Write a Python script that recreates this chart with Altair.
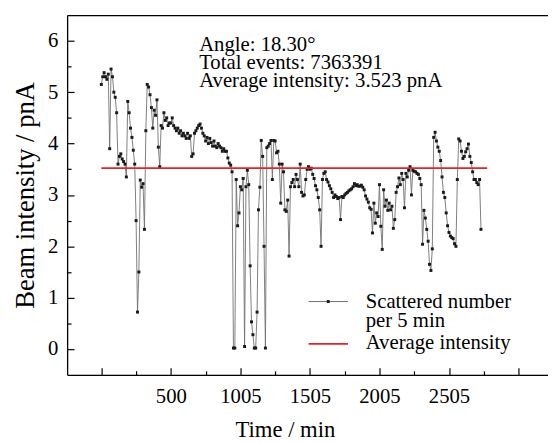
import altair as alt
import pandas as pd

# ---------------- data ----------------
time_min = list(range(5, 2736, 10))
beam = [
    5.15, 5.3, 5.38, 5.3, 5.25, 5.35, 3.9, 5.45, 5.3, 5.0,
    4.9, 4.6, 3.6, 3.75, 3.8, 3.7, 3.65, 3.6, 3.35, 4.82,
    4.6, 4.3, 4.12, 3.87, 3.6, 2.5, 0.72, 1.5, 3.29, 3.15,
    3.22, 2.33, 4.25, 5.15, 5.1, 4.95, 4.7, 4.3, 4.65, 4.55,
    4.85, 3.93, 3.55, 4.35, 4.3, 4.6, 4.45, 4.5, 4.35, 4.4,
    4.4, 4.5, 4.35, 4.3, 4.25, 4.3, 4.2, 4.25, 4.15, 4.2,
    4.15, 4.1, 4.2, 4.1, 4.15, 3.75, 3.8, 4.2, 4.25, 4.3,
    4.35, 4.38, 4.3, 4.2, 4.15, 4.05, 4.12, 4.0, 4.1, 4.02,
    3.95, 4.05, 3.95, 3.92, 4.0, 3.95, 3.92, 3.85, 3.9, 3.85,
    3.85, 3.72, 3.62, 3.58, 3.45, 0.02, 0.02, 3.3, 2.4, 2.65,
    3.16, 3.1, 3.32, 0.05, 3.16, 3.48, 3.2, 1.62, 0.53, 0.28,
    0.02, 0.02, 0.72, 2.71, 3.15, 4.06, 3.75, 2.0, 0.02, 3.92,
    3.95, 4.0, 4.06, 3.3, 4.06, 4.05, 3.82, 3.85, 3.6, 2.84,
    3.6, 3.45, 2.71, 2.68, 2.9, 1.81, 3.16, 3.24, 3.3, 3.16,
    3.4, 3.3, 3.16, 3.6, 3.05, 2.98, 3.0, 3.3, 3.5, 3.55,
    3.5, 3.52, 3.4, 3.32, 3.18, 3.1, 2.95, 2.71, 2.0, 3.3,
    3.42, 3.45, 3.3, 3.25, 3.18, 3.12, 3.05, 2.95, 3.0, 2.97,
    2.93, 2.95, 2.52, 2.97, 2.95, 3.0, 3.03, 3.05, 3.08, 3.1,
    3.12, 3.16, 3.22, 3.18, 3.2, 3.17, 3.17, 3.19, 3.15, 3.1,
    2.98, 2.92, 2.86, 2.75, 2.72, 2.26, 2.84, 2.45, 2.65, 2.58,
    3.2, 2.39, 1.94, 3.1, 2.78, 2.9, 2.7, 2.84, 2.71, 2.78,
    2.35, 2.52, 3.05, 3.16, 3.33, 3.2, 3.42, 3.3, 2.75, 3.42,
    3.35, 3.48, 3.55, 3.0, 3.48, 3.46, 3.45, 3.42, 3.4, 3.32,
    3.2, 2.04, 2.7, 2.55, 2.33, 2.1, 1.65, 1.53, 1.95, 4.12,
    4.22, 4.05, 3.93, 3.85, 3.67, 3.35, 3.05, 2.95, 2.65, 2.4,
    2.27, 2.2, 2.17, 2.15, 2.05, 2.0, 3.3, 4.09, 4.05, 3.85,
    3.71, 3.75, 3.84, 3.9, 3.99, 3.75, 3.63, 3.45, 3.3, 3.3,
    3.24, 3.2, 3.3, 2.33,
]

avg_value = 3.523
avg_span = [5, 2780]

x_tick_values = [5, 505, 1005, 1505, 2005, 2505, 3005]
x_tick_labels = ["", "500", "1005", "1505", "2005", "2505", ""]
x_minor_values = [255, 755, 1255, 1755, 2255, 2755]
y_tick_values = [0, 1, 2, 3, 4, 5, 6]
y_minor_values = [0.5, 1.5, 2.5, 3.5, 4.5, 5.5]

info_lines = ["Angle: 18.30°", "Total events: 7363391", "Average intensity: 3.523 pnA"]
legend_series = ["Scattered number", "per 5 min"]
legend_avg = "Average intensity"

x_title = "Time / min"
y_title = "Beam intensity / pnA"

# ---------------- layout ----------------
W, H = 488, 365
FONT = "Liberation Serif"
RED = "#e3242b"

df = pd.DataFrame({"t": time_min, "v": beam})
avg_df = pd.DataFrame({"x0": [avg_span[0]], "x1": [avg_span[1]], "y": [avg_value]})
one = pd.DataFrame({"a": [0]})

xs = alt.Scale(domain=[-241, 3217], nice=False, zero=False)
ys = alt.Scale(domain=[-0.5, 6.5], nice=False, zero=False)

label_map = "{" + ",".join(f"'{v}':'{l}'" for v, l in zip(x_tick_values, x_tick_labels)) + "}"

common = dict(labelFont=FONT, labelColor="black", titleFont=FONT, titleColor="black",
              titleFontWeight="normal", grid=False)

axis_bottom = alt.Axis(orient="bottom", values=x_tick_values, labelExpr=label_map + "[datum.value]",
                       ticks=False, tickSize=0, domain=True, domainColor="black", domainWidth=1.3,
                       labelFontSize=21, labelPadding=11, labelFlush=False, labelOverlap=False,
                       title=x_title, titleFontSize=23, titlePadding=13, titleX=221, **common)
axis_left = alt.Axis(orient="left", values=y_tick_values, ticks=False, tickSize=0, domain=True,
                     domainColor="black", domainWidth=1.3, labelFontSize=21, labelPadding=9.5,
                     labelFlush=False, labelOverlap=False,
                     title=y_title, titleFontSize=27, titlePadding=8, **common)
axis_top_frame = alt.Axis(orient="top", domain=True, domainColor="black", domainWidth=1.3,
                          ticks=False, labels=False, grid=False, title=None)
axis_x_major = alt.Axis(orient="top", offset=-H, values=x_tick_values, ticks=True, tickSize=7,
                        tickColor="black", tickWidth=1.2, labels=False, domain=False, grid=False, title=None)
axis_x_minor = alt.Axis(orient="top", offset=-H, values=x_minor_values, ticks=True, tickSize=4,
                        tickColor="black", tickWidth=1.2, labels=False, domain=False, grid=False, title=None)
axis_y_major = alt.Axis(orient="right", offset=-W, values=y_tick_values, ticks=True, tickSize=7,
                        tickColor="black", tickWidth=1.2, labels=False, domain=False, grid=False, title=None)
axis_y_minor = alt.Axis(orient="right", offset=-W, values=y_minor_values, ticks=True, tickSize=4,
                        tickColor="black", tickWidth=1.2, labels=False, domain=False, grid=False, title=None)

line = alt.Chart(df).mark_line(color="#707070", strokeWidth=0.9).encode(
    x=alt.X("t:Q", scale=xs, axis=axis_bottom),
    y=alt.Y("v:Q", scale=ys, axis=axis_left),
)
pts = alt.Chart(df).mark_point(shape="square", filled=True, size=9, color="#1a1a1a", opacity=1).encode(
    x=alt.X("t:Q", scale=xs, axis=None),
    y=alt.Y("v:Q", scale=ys, axis=None),
)
avg = alt.Chart(avg_df).mark_rule(color=RED, strokeWidth=1.8).encode(
    x=alt.X("x0:Q", scale=xs, axis=axis_top_frame),
    x2="x1:Q",
    y=alt.Y("y:Q", scale=ys, axis=axis_y_major),
)
ticks1 = alt.Chart(df).mark_point(opacity=0).encode(
    x=alt.X("t:Q", scale=xs, axis=axis_x_major),
    y=alt.Y("v:Q", scale=ys, axis=axis_y_minor),
)
ticks2 = alt.Chart(df).mark_point(opacity=0).encode(
    x=alt.X("t:Q", scale=xs, axis=axis_x_minor),
    y=alt.Y("v:Q", scale=ys, axis=None),
)

info = alt.Chart(one).mark_text(align="left", baseline="alphabetic", font=FONT, fontSize=21,
                                lineHeight=18.4, color="black", text=info_lines).encode(
    x=alt.value(134), y=alt.value(36.3))

leg_l1 = alt.Chart(one).mark_rule(color="#707070", strokeWidth=1).encode(
    x=alt.value(245), x2=alt.value(285), y=alt.value(290.7))
leg_d1 = alt.Chart(one).mark_point(shape="square", filled=True, size=9, color="#1a1a1a", opacity=1).encode(
    x=alt.value(265), y=alt.value(290.7))
leg_l2 = alt.Chart(one).mark_rule(color=RED, strokeWidth=1.8).encode(
    x=alt.value(245), x2=alt.value(285), y=alt.value(333.7))
leg_t1 = alt.Chart(one).mark_text(align="left", baseline="alphabetic", font=FONT, fontSize=21,
                                  lineHeight=19, color="black", text=legend_series).encode(
    x=alt.value(303), y=alt.value(297.3))
leg_t2 = alt.Chart(one).mark_text(align="left", baseline="alphabetic", font=FONT, fontSize=21,
                                  color="black", text=legend_avg).encode(
    x=alt.value(303), y=alt.value(338.7))

chart = alt.layer(
    ticks1, ticks2, line, pts, avg, info, leg_l1, leg_d1, leg_l2, leg_t1, leg_t2
).resolve_axis(x="independent", y="independent").properties(
    width=W, height=H,
    padding={"left": 60, "top": 4, "right": 0, "bottom": 64},
    autosize=alt.AutoSizeParams(type="none"),
).configure_view(stroke=None).configure(background="white")

chart.save("out.html", embed_options={"renderer": "svg", "actions": False})
